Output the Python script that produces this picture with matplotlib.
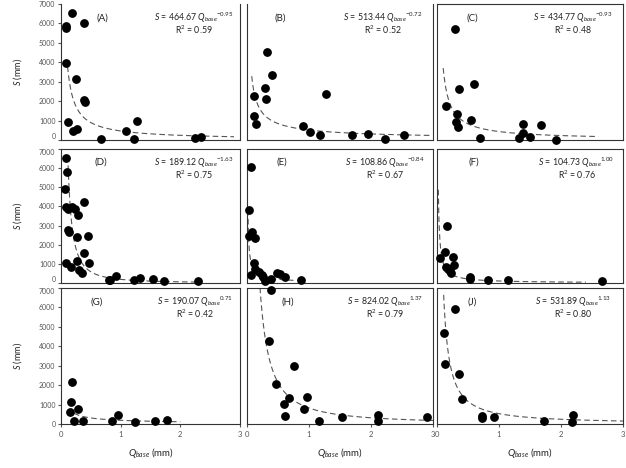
import matplotlib
matplotlib.use("Agg")
import matplotlib.pyplot as plt
import numpy as np

plt.rcParams['font.family'] = ['Lato', 'DejaVu Sans']
plt.rcParams['mathtext.fontset'] = 'custom'
plt.rcParams['mathtext.rm'] = 'Lato'
plt.rcParams['mathtext.it'] = 'Lato:italic'

# ---- data (Q_base in mm, S in mm) ----
labels = ["(A)", "(B)", "(C)", "(D)", "(E)", "(F)", "(G)", "(H)", "(J)"]
coef = [464.67, 513.44, 434.77, 189.12, 108.86, 104.73, 190.07, 824.02, 531.89]
expo = [-0.95, -0.72, -0.93, -1.63, -0.84, -1.00, -0.71, -1.37, -1.13]
expo_text = ["-0.95", "-0.72", "-0.93", "-1.63", "-0.84", "1.00", "0.71", "1.37", "1.13"]
r2 = ["0.59", "0.52", "0.48", "0.75", "0.67", "0.76", "0.42", "0.79", "0.80"]
fit_start = [0.11, 0.076, 0.10, 0.113, 0.0145, 0.0215, 0.22, 0.20, 0.107]
fit_end = [2.9, 2.95, 2.6, 2.3, 0.75, 2.4, 2.0, 3.0, 3.0]

qA = [0.08, 0.08, 0.18, 0.39, 0.09, 0.245, 0.38, 0.40, 0.12, 0.20, 0.27, 0.67, 1.09, 1.28, 1.22, 2.25, 2.34]
sA = [5850, 5750, 6520, 6000, 3980, 3160, 2050, 1970, 930, 460, 550, 70, 480, 960, 70, 120, 150]

qB = [0.32, 0.40, 0.29, 0.11, 0.30, 1.27, 0.12, 0.14, 0.91, 1.01, 1.17, 1.69, 1.95, 2.23, 2.54]
sB = [4545, 3345, 2690, 2280, 2090, 2350, 1250, 810, 740, 410, 275, 240, 310, 50, 240]

qC = [0.29, 0.36, 0.59, 0.145, 0.32, 0.30, 0.34, 0.55, 0.70, 1.38, 1.39, 1.32, 1.50, 1.68, 1.92]
sC = [5700, 2625, 2880, 1750, 1340, 940, 685, 1030, 120, 840, 360, 120, 140, 755, 10]

qD = [0.08, 0.105, 0.07, 0.08, 0.12, 0.18, 0.23, 0.29, 0.38, 0.12, 0.13, 0.26, 0.455, 0.39, 0.09,
      0.17, 0.26, 0.47, 0.30, 0.355, 0.80, 0.82, 0.93, 1.23, 1.33, 1.55, 1.73, 2.30]
sD = [6545, 5815, 4910, 3970, 3870, 3970, 3870, 3550, 4230, 2770, 2650, 2390, 2470, 1550, 1030,
      835, 1150, 1030, 680, 505, 155, 170, 380, 155, 260, 225, 90, 90]

qE = [0.06, 0.04, 0.085, 0.04, 0.13, 0.11, 0.13, 0.07, 0.20, 0.24, 0.26, 0.29, 0.39, 0.48, 0.53, 0.62, 0.87]
sE = [6045, 3815, 2680, 2440, 2335, 1060, 730, 435, 590, 420, 300, 120, 190, 540, 485, 315, 140]

qF = [0.16, 0.13, 0.05, 0.25, 0.14, 0.27, 0.17, 0.21, 0.23, 0.54, 0.53, 0.82, 1.15, 2.66]
sF = [2990, 1635, 1320, 1360, 835, 925, 750, 645, 505, 330, 195, 140, 140, 105]

qG = [0.18, 0.16, 0.15, 0.28, 0.21, 0.37, 0.85, 0.96, 1.24, 1.57, 1.77]
sG = [2180, 1130, 620, 755, 170, 170, 140, 480, 120, 155, 190]

qH = [0.38, 0.35, 0.75, 0.47, 0.68, 0.96, 0.59, 0.92, 0.62, 1.16, 1.53, 2.11, 2.11, 2.91]
sH = [6900, 4270, 2985, 2060, 1340, 1405, 1010, 755, 430, 170, 375, 480, 155, 360]

qJ = [0.285, 0.11, 0.13, 0.355, 0.40, 0.73, 0.72, 0.92, 1.73, 2.20, 2.18]
sJ = [5900, 4680, 3090, 2560, 1290, 410, 310, 375, 140, 480, 85]

Q = [qA, qB, qC, qD, qE, qF, qG, qH, qJ]
S = [sA, sB, sC, sD, sE, sF, sG, sH, sJ]

yticks = [0, 1000, 2000, 3000, 4000, 5000, 6000, 7000]
xticks = [0, 1, 2, 3]

# ---- layout ----
W, H = 626, 468
col_l = [61, 247, 437]
col_w = [179, 186, 186]
row_t = [4, 149, 288]
row_b = [140, 283, 424]
let_x = [0.23, 0.18, 0.19, 0.22, 0.19, 0.20, 0.20, 0.22, 0.19]
eq_x = [0.74, 0.73, 0.73, 0.74, 0.74, 0.75, 0.75, 0.74, 0.73]

fig = plt.figure(figsize=(W / 100, H / 100), dpi=100)
txt_col = '#222222'
for i in range(9):
    r, c = divmod(i, 3)
    ax = fig.add_axes([col_l[c] / W, 1 - row_b[r] / H, col_w[c] / W, (row_b[r] - row_t[r]) / H])
    ax.set_xlim(0, 3)
    ax.set_ylim(0, 7000)
    for sp in ax.spines.values():
        sp.set_color('#333333')
        sp.set_linewidth(0.8)
    if r == 0 and c < 2:
        ax.spines['top'].set_visible(False)
    # fitted curve
    qf = np.linspace(fit_start[i], fit_end[i], 400)
    ax.plot(qf, coef[i] * qf ** expo[i], color='#555555', lw=0.8, dashes=(5, 3))
    ax.scatter(Q[i], S[i], s=28, color='black', zorder=3, clip_on=False)
    # ticks
    if c == 0:
        ax.set_yticks(yticks)
        ax.tick_params(axis='y', labelsize=5.0, length=2, colors='#555555', pad=2)
        ticks = ax.yaxis.get_major_ticks()
        if r > 0:
            ticks[-1].label1.set_va('top')
        if r < 2:
            ticks[0].label1.set_va('bottom')
        ax.set_ylabel(r'$\mathit{S}$ (mm)', fontsize=6.5, color=txt_col, labelpad=11)
    else:
        ax.set_yticks([])
    if r == 2:
        ax.set_xticks(xticks)
        ax.tick_params(axis='x', labelsize=5.5, length=2, colors='#555555', pad=3)
        ax.set_xlabel(r'$\mathit{Q}_{\mathit{base}}$ (mm)', fontsize=7, color=txt_col, labelpad=6)
    else:
        ax.set_xticks([])
    # annotations
    ax.text(let_x[i], 0.90, labels[i], transform=ax.transAxes, fontsize=7, color=txt_col,
            ha='center', va='center')
    eq = r'$\mathit{S}$ = ' + f'{coef[i]:.2f} ' + r'$\mathit{Q}_{\mathit{base}}$' + r'$^{' + expo_text[i] + r'}$'
    ax.text(eq_x[i], 0.90, eq, transform=ax.transAxes, fontsize=6.3, color=txt_col,
            ha='center', va='center')
    ax.text(eq_x[i], 0.81, 'R$^2$ = ' + r2[i], transform=ax.transAxes, fontsize=6.3,
            color=txt_col, ha='center', va='center')

fig.savefig('out.png', dpi=100)
